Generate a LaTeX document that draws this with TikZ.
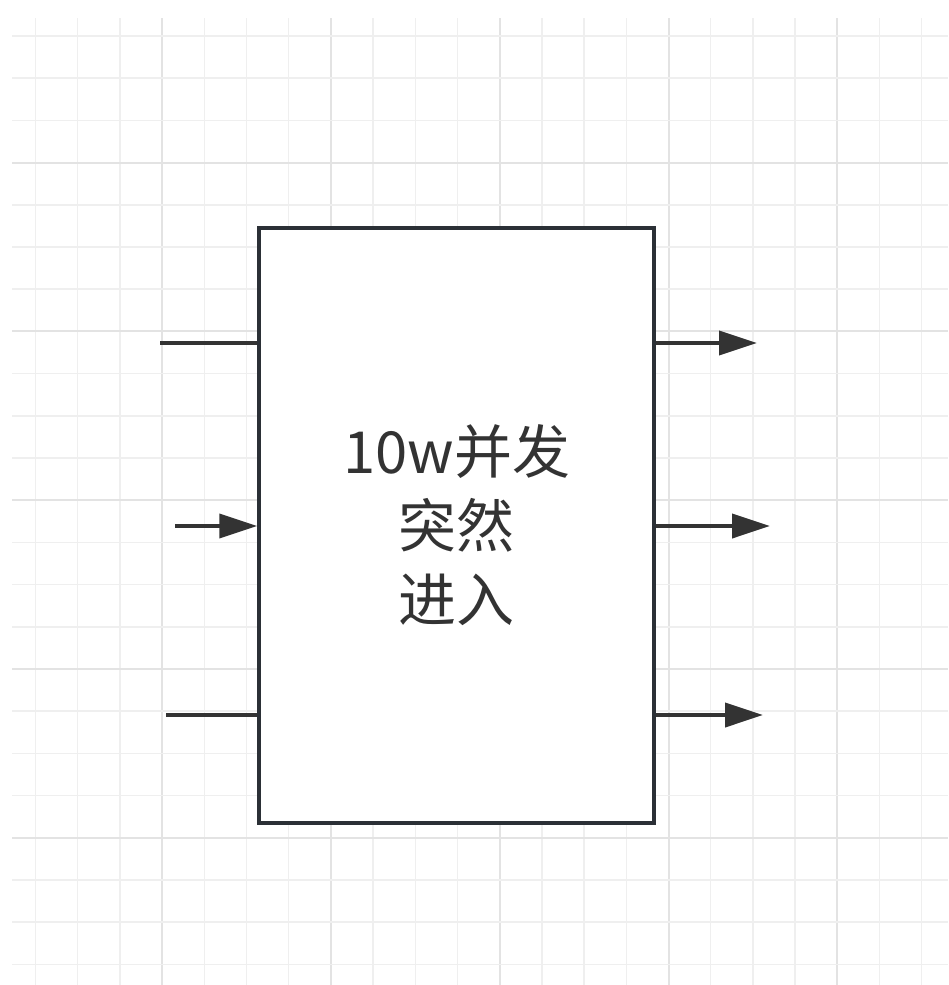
\documentclass[tikz,border=0pt]{standalone}
\usepackage{fontspec}
\newfontfamily\cjk{Noto Sans CJK SC}
\usetikzlibrary{arrows.meta}
\definecolor{gridminor}{HTML}{EFEFEF}
\definecolor{gridmajor}{HTML}{E3E3E3}
\definecolor{boxline}{HTML}{2B3036}
\definecolor{arrowc}{HTML}{333333}
\tikzset{
  mainbox/.style={draw=boxline, line width=4pt, fill=white, minimum width=395pt, minimum height=595pt, inner sep=0pt, align=center, text=arrowc, font=\cjk\fontsize{58}{74}\selectfont},
  wire/.style={draw=arrowc, line width=4pt},
  arrowwire/.style={wire, -{Triangle[length=38pt, width=24pt]}},
}
\begin{document}
\begin{tikzpicture}[x=1pt, y=-1pt]
\useasboundingbox (0,0) rectangle (948,985);
\fill[white] (0,0) rectangle (948,985);
% grid
\begin{scope}
\clip (12,18) rectangle (948,985);
\foreach \k in {0,...,21} {
  \pgfmathtruncatemacro{\m}{mod(\k+1,4)}
  \ifnum\m=0
    \draw[gridmajor, line width=2pt] ({35.5+42.2*\k},18) -- ({35.5+42.2*\k},985);
  \else
    \draw[gridminor, line width=1.5pt] ({35.5+42.2*\k},18) -- ({35.5+42.2*\k},985);
  \fi
}
\foreach \k in {0,...,22} {
  \pgfmathtruncatemacro{\m}{mod(\k+1,4)}
  \ifnum\m=0
    \draw[gridmajor, line width=2pt] (12,{36+42.2*\k}) -- (948,{36+42.2*\k});
  \else
    \draw[gridminor, line width=1.5pt] (12,{36+42.2*\k}) -- (948,{36+42.2*\k});
  \fi
}
\end{scope}
% box
\node[mainbox] (box) at (456.75,525.5) {10w并发\\突然\\进入};
% free ends
\coordinate (l1) at (160,343);
\coordinate (l2) at (175,526);
\coordinate (l3) at (166,715);
\coordinate (r1) at (757,343);
\coordinate (r2) at (770,526);
\coordinate (r3) at (763,715);
% connectors
\draw[wire] (l1) -- (box.west |- l1);
\draw[arrowwire] (l2) -- (box.west |- l2);
\draw[wire] (l3) -- (box.west |- l3);
\draw[arrowwire] (box.east |- r1) -- (r1);
\draw[arrowwire] (box.east |- r2) -- (r2);
\draw[arrowwire] (box.east |- r3) -- (r3);
\end{tikzpicture}
\end{document}
